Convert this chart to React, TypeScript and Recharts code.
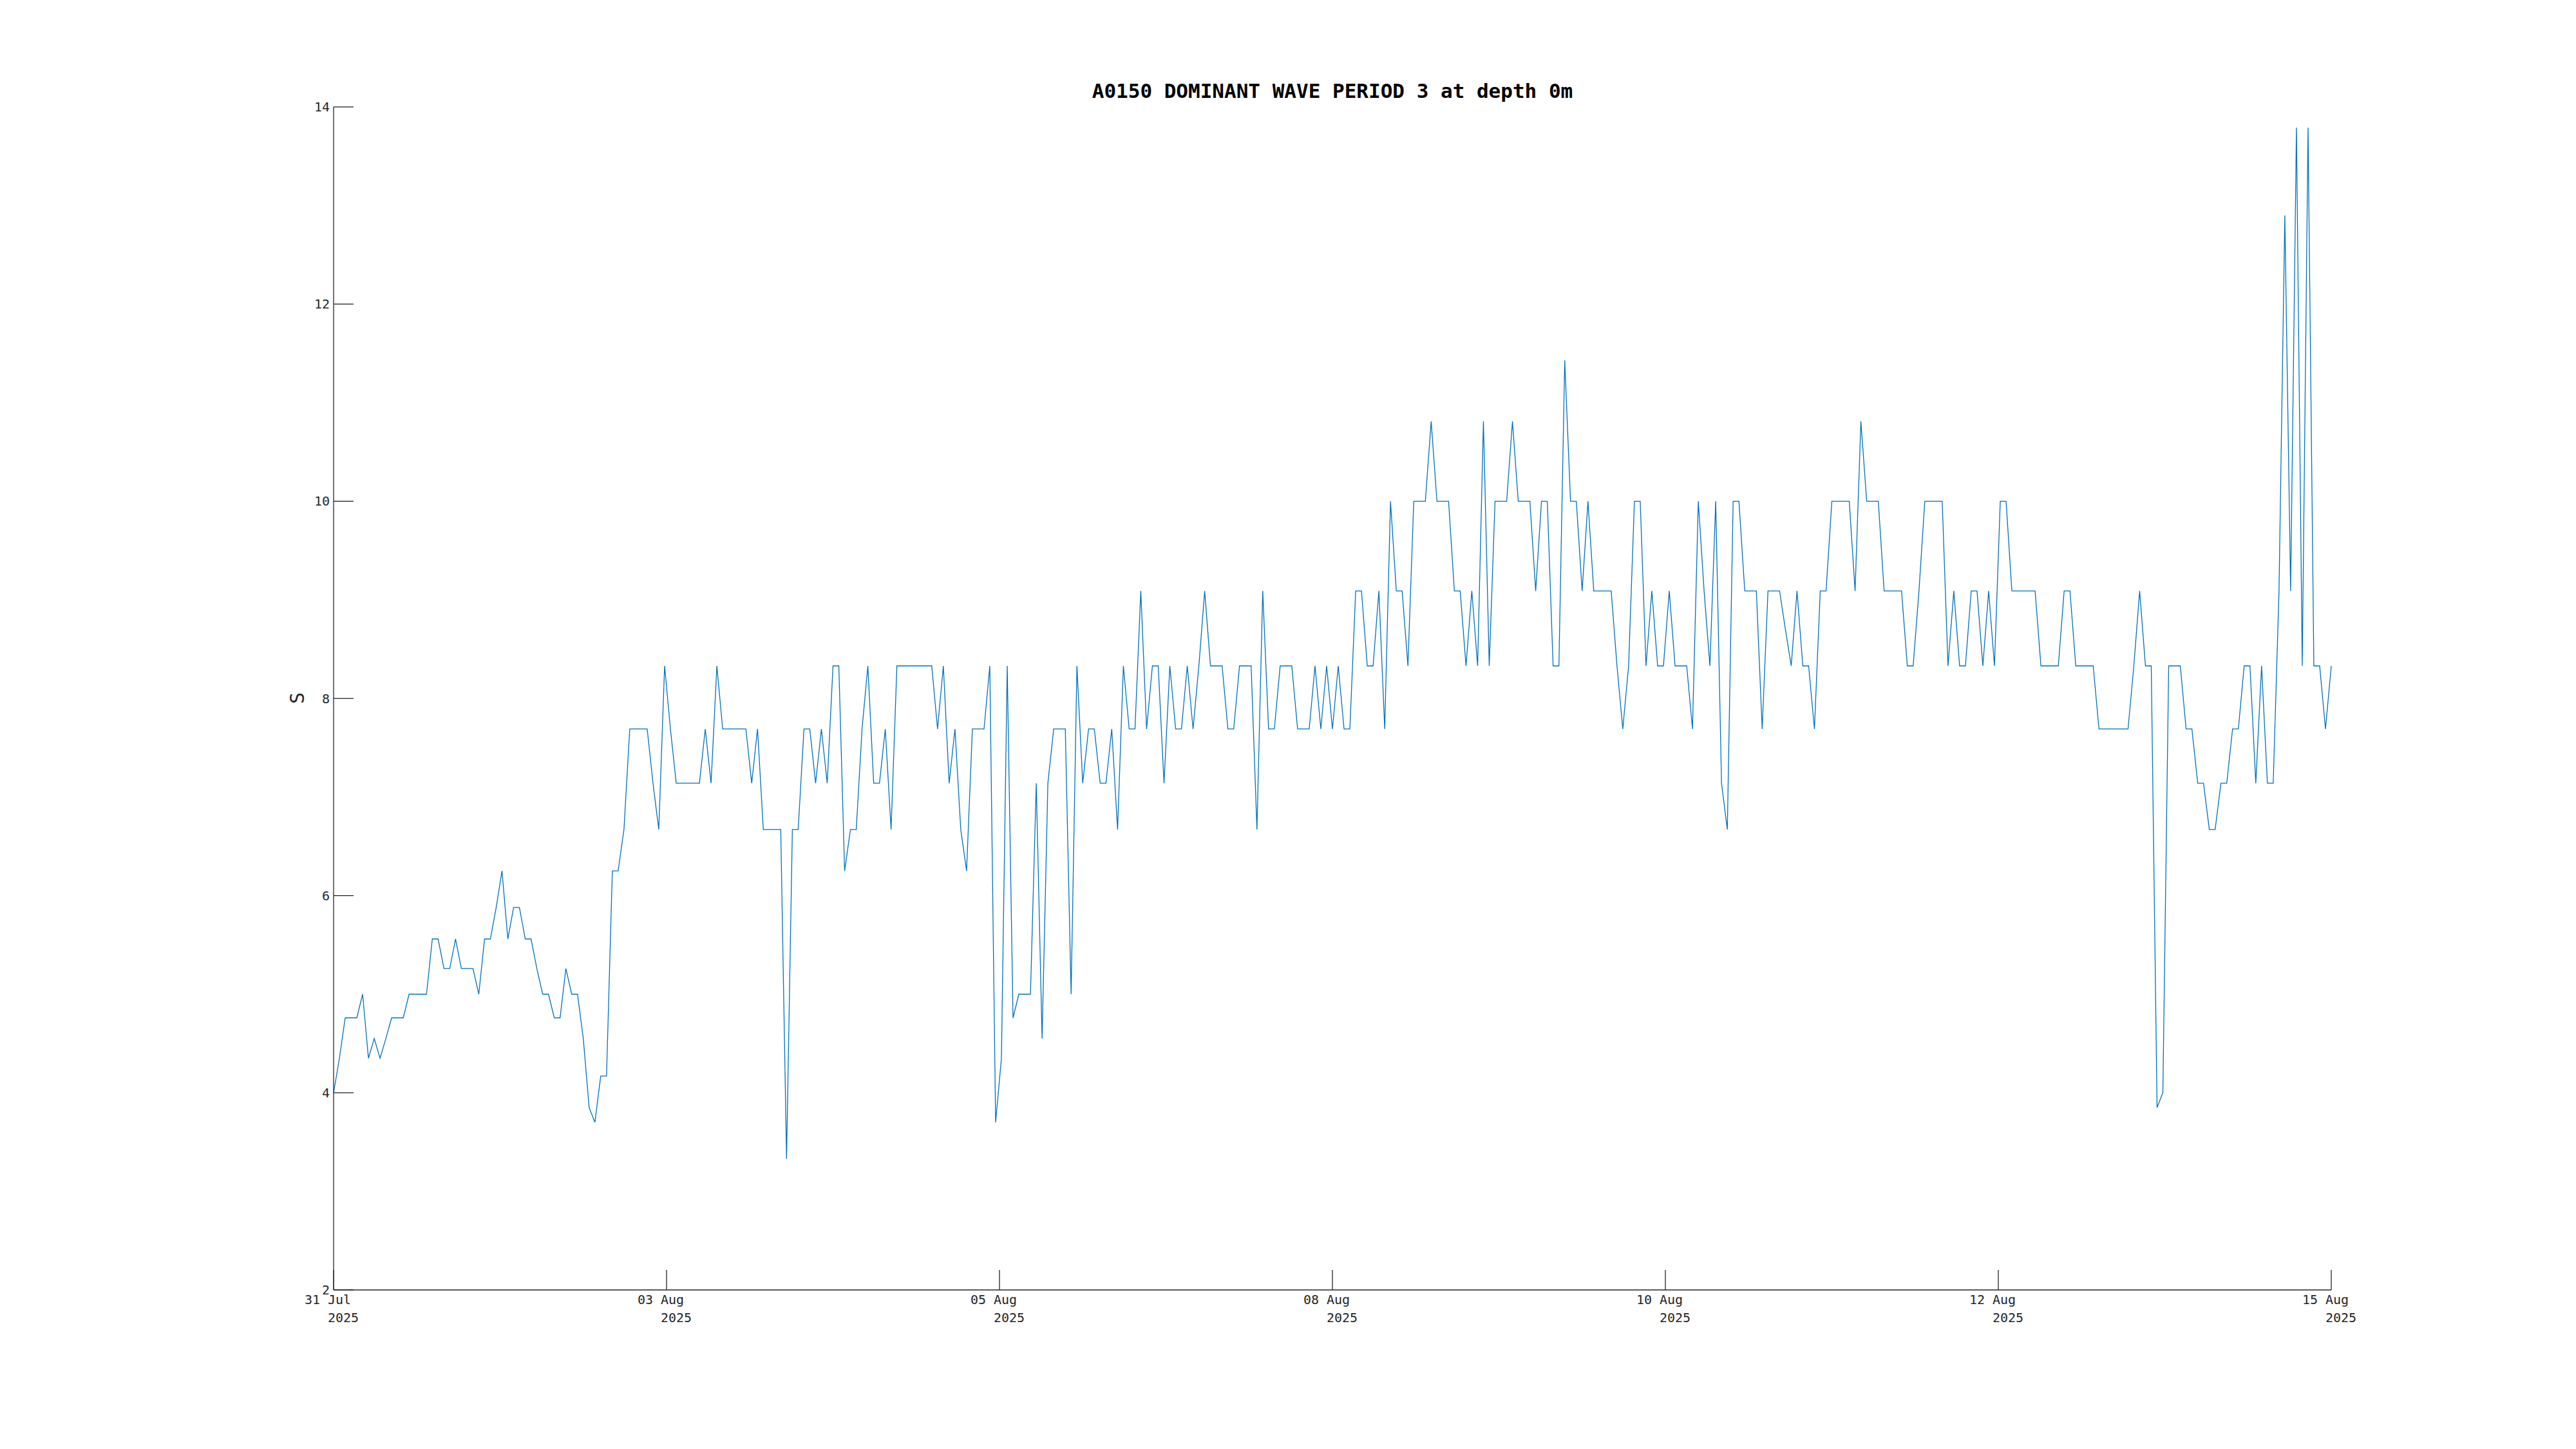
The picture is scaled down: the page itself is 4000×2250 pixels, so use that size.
import React from 'react';
import { LineChart, Line, XAxis, YAxis } from 'recharts';

// dominant wave period (s), one reading per sample from 31 Jul to 15 Aug 2025
const period = [
  4.0, 4.35, 4.76, 4.76, 4.76, 5.0, 4.35, 4.55, 4.35, 4.55, 4.76, 4.76, 4.76, 5.0, 5.0, 5.0, 5.0, 5.56, 5.56, 5.26,
  5.26, 5.56, 5.26, 5.26, 5.26, 5.0, 5.56, 5.56, 5.88, 6.25, 5.56, 5.88, 5.88, 5.56, 5.56,
  5.26, 5.0, 5.0, 4.76, 4.76, 5.26, 5.0, 5.0, 4.55, 3.85, 3.7, 4.17, 4.17, 6.25, 6.25, 6.67, 7.69, 7.69, 7.69, 7.69,
  7.14, 6.67, 8.33, 7.69, 7.14, 7.14, 7.14, 7.14, 7.14, 7.69, 7.14, 8.33, 7.69, 7.69,
  7.69, 7.69, 7.69, 7.14, 7.69, 6.67, 6.67, 6.67, 6.67, 3.33, 6.67, 6.67, 7.69, 7.69, 7.14, 7.69, 7.14, 8.33, 8.33,
  6.25, 6.67, 6.67, 7.69, 8.33, 7.14, 7.14, 7.69, 6.67, 8.33, 8.33, 8.33, 8.33, 8.33, 8.33,
  8.33, 7.69, 8.33, 7.14, 7.69, 6.67, 6.25, 7.69, 7.69, 7.69, 8.33, 3.7, 4.35, 8.33, 4.76, 5.0, 5.0, 5.0, 7.14, 4.55,
  7.14, 7.69, 7.69, 7.69, 5.0, 8.33, 7.14, 7.69, 7.69, 7.14, 7.14, 7.69, 6.67, 8.33, 7.69,
  7.69, 9.09, 7.69, 8.33, 8.33, 7.14, 8.33, 7.69, 7.69, 8.33, 7.69, 8.33, 9.09, 8.33, 8.33, 8.33, 7.69, 7.69, 8.33,
  8.33, 8.33, 6.67, 9.09, 7.69, 7.69, 8.33, 8.33, 8.33, 7.69, 7.69, 7.69, 8.33, 7.69, 8.33,
  7.69, 8.33, 7.69, 7.69, 9.09, 9.09, 8.33, 8.33, 9.09, 7.69, 10.0, 9.09, 9.09, 8.33, 10.0, 10.0, 10.0, 10.81, 10.0,
  10.0, 10.0, 9.09, 9.09, 8.33, 9.09, 8.33, 10.81, 8.33, 10.0, 10.0, 10.0, 10.81, 10.0, 10.0,
  10.0, 9.09, 10.0, 10.0, 8.33, 8.33, 11.43, 10.0, 10.0, 9.09, 10.0, 9.09, 9.09, 9.09, 9.09, 8.33, 7.69, 8.33, 10.0,
  10.0, 8.33, 9.09, 8.33, 8.33, 9.09, 8.33, 8.33, 8.33, 7.69, 10.0, 9.09, 8.33, 10.0, 7.14, 6.67,
  10.0, 10.0, 9.09, 9.09, 9.09, 7.69, 9.09, 9.09, 9.09, 8.7, 8.33, 9.09, 8.33, 8.33, 7.69, 9.09, 9.09, 10.0, 10.0,
  10.0, 10.0, 9.09, 10.81, 10.0, 10.0, 10.0, 9.09, 9.09, 9.09, 9.09, 8.33, 8.33, 9.09, 10.0,
  10.0, 10.0, 10.0, 8.33, 9.09, 8.33, 8.33, 9.09, 9.09, 8.33, 9.09, 8.33, 10.0, 10.0, 9.09, 9.09, 9.09, 9.09, 9.09,
  8.33, 8.33, 8.33, 8.33, 9.09, 9.09, 8.33, 8.33, 8.33, 8.33, 7.69, 7.69, 7.69, 7.69, 7.69, 7.69,
  8.33, 9.09, 8.33, 8.33, 3.85, 4.0, 8.33, 8.33, 8.33, 7.69, 7.69, 7.14, 7.14, 6.67, 6.67, 7.14, 7.14, 7.69, 7.69,
  8.33, 8.33, 7.14, 8.33, 7.14, 7.14, 9.09, 12.9, 9.09, 13.79, 8.33, 13.79, 8.33, 8.33, 7.69, 8.33,
];

const dayLabels = ['31 Jul', '03 Aug', '05 Aug', '08 Aug', '10 Aug', '12 Aug', '15 Aug'];
const yearLabels = ['2025', '2025', '2025', '2025', '2025', '2025', '2025'];
const yTicks = [2, 4, 6, 8, 10, 12, 14];

const data = period.map((v, i) => ({ i, v }));
const last = period.length - 1;
const xTicks = dayLabels.map((_, k) => (k * last) / (dayLabels.length - 1));

const AXIS = '#262626';
const MONO = '"DejaVu Sans Mono", monospace';

function YTick(props: any) {
  const { x, y, payload } = props;
  return (
    <g>
      <line x1={x} x2={x + 31} y1={y} y2={y} stroke={AXIS} strokeWidth={1.3} />
      <text x={x - 6} y={y + 7} textAnchor="end" fontFamily={MONO} fontSize={20} fill={AXIS}>
        {payload.value}
      </text>
    </g>
  );
}

function XTick(props: any) {
  const { x, y, index } = props;
  return (
    <g>
      <line x1={x} x2={x} y1={y} y2={y - 31} stroke={AXIS} strokeWidth={1.3} />
      <text x={x - 9} y={y + 22} textAnchor="middle" fontFamily={MONO} fontSize={20} fill={AXIS}>
        {dayLabels[index]}
      </text>
      <text x={x + 15} y={y + 50} textAnchor="middle" fontFamily={MONO} fontSize={20} fill={AXIS}>
        {yearLabels[index]}
      </text>
    </g>
  );
}

export default function App() {
  return (
    <div style={{ position: 'absolute', left: 0, top: 0, width: 4000, height: 2250, background: '#fff' }}>
      <div
        style={{
          position: 'absolute',
          left: 2069,
          top: 126,
          transform: 'translateX(-50%)',
          fontFamily: MONO,
          fontWeight: 'bold',
          fontSize: 31,
          lineHeight: '31px',
          whiteSpace: 'nowrap',
          color: '#000',
        }}
      >
        A0150 DOMINANT WAVE PERIOD 3 at depth 0m
      </div>
      <div
        style={{
          position: 'absolute',
          left: 462,
          top: 1084,
          transform: 'translate(-50%, -50%) rotate(-90deg)',
          fontFamily: MONO,
          fontSize: 30,
          lineHeight: '30px',
          color: AXIS,
        }}
      >
        S
      </div>
      <LineChart width={4000} height={2250} data={data} margin={{ top: 166, right: 380, bottom: 167, left: 438 }}>
        <XAxis
          dataKey="i"
          type="number"
          domain={[0, last]}
          ticks={xTicks}
          interval={0}
          height={80}
          tickSize={0}
          tickMargin={0}
          tickLine={false}
          axisLine={{ stroke: AXIS, strokeWidth: 1.3 }}
          tick={<XTick />}
        />
        <YAxis
          type="number"
          domain={[2, 14]}
          ticks={yTicks}
          interval={0}
          width={80}
          tickSize={0}
          tickMargin={0}
          tickLine={false}
          axisLine={{ stroke: AXIS, strokeWidth: 1.3 }}
          tick={<YTick />}
        />
        <Line
          type="linear"
          dataKey="v"
          stroke="#0072BD"
          strokeWidth={1.3}
          dot={false}
          isAnimationActive={false}
        />
      </LineChart>
    </div>
  );
}
